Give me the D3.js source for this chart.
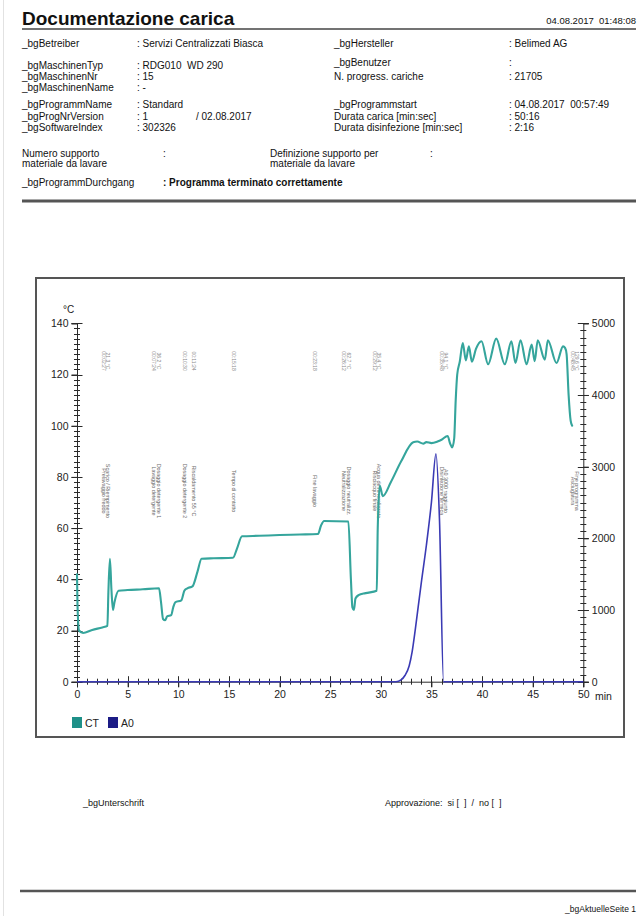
<!DOCTYPE html>
<html>
<head>
<meta charset="utf-8">
<script src="https://cdn.jsdelivr.net/npm/d3@7"></script>
<style>
  body { margin: 0; background: #fff; }
  svg { display: block; }
  text { font-family: "Liberation Sans", Arial, Helvetica, sans-serif; white-space: pre; }
</style>
</head>
<body>
<svg id="page" width="642" height="916"></svg>
<script>
// ---------- Report data ----------
const reportTitle = "Documentazione carica";
const reportDate = "04.08.2017  01:48:08";

// header field blocks: [label, value]
const machineLeft = [
  ["_bgBetreiber", ": Servizi Centralizzati Biasca"],
  ["_bgMaschinenTyp", ": RDG010  WD 290"],
  ["_bgMaschinenNr", ": 15"],
  ["_bgMaschinenName", ": -"]
];
const machineRight = [
  ["_bgHersteller", ": Belimed AG"],
  ["_bgBenutzer", ":"],
  ["N. progress. cariche", ": 21705"]
];
const programLeft = [
  ["_bgProgrammName", ": Standard"],
  ["_bgProgNrVersion", ": 1"],
  ["_bgSoftwareIndex", ": 302326"]
];
const programVersionDate = "/ 02.08.2017";
const programRight = [
  ["_bgProgrammstart", ": 04.08.2017  00:57:49"],
  ["Durata carica [min:sec]", ": 50:16"],
  ["Durata disinfezione [min:sec]", ": 2:16"]
];
const supportLabels = [["Numero supporto", "materiale da lavare"], ["Definizione supporto per", "materiale da lavare"]];
const passLabel = "_bgProgrammDurchgang";
const passValue = ": Programma terminato correttamente";
const signatureLabel = "_bgUnterschrift";
const approvalLabel = "Approvazione:  si [  ]  /  no [  ]";
const pageLabel = "_bgAktuelleSeite 1";

// ---------- Chart data ----------
// CT: chamber temperature [°C] over program time [min]
const ctTime = [0, 0.05, 0.2, 0.6, 1.5, 2.5, 3.0, 3.1, 3.25, 3.4, 3.55, 3.7, 4.1, 5, 6.5, 8.1, 8.3, 8.5, 8.7, 8.9, 9.3, 9.5, 9.7, 10.3, 10.6, 10.9, 11.4, 11.9, 12.3, 13.5, 15.4, 15.8, 16.3, 18, 20, 22, 23.8, 24.1, 24.4, 26.8, 27.05, 27.2, 27.35, 27.5, 27.8, 28.5, 29.6, 29.7, 29.9, 30.2, 31, 32, 33.2, 33.6, 34.2, 34.5, 35.0, 35.6, 36.0, 36.6, 36.85, 37.05, 37.25, 37.4, 37.55, 37.8, 38.1, 38.4, 38.7, 39.0, 39.4, 39.95, 40.6, 41.4, 42.25, 42.9, 43.3, 43.8, 44.4, 44.9, 45.2, 45.5, 46.2, 46.5, 47.35, 48.0, 48.2, 48.35, 48.55, 48.75, 48.9];
const ctTemp = [42, 30, 20, 19, 20.2, 21.2, 21.8, 35, 48, 36, 28, 31, 35.5, 35.8, 36.1, 36.5, 31, 24.5, 24, 25.5, 26, 29, 31, 31.8, 35.5, 36.5, 37.2, 43, 48, 48.2, 48.4, 52, 56.8, 57, 57.3, 57.5, 57.7, 61, 62.8, 62.6, 40, 29, 28, 32.5, 33.8, 34.6, 35.5, 60, 76.5, 72.5, 78, 86, 93.5, 93.8, 93, 93.6, 93.2, 93.8, 94.5, 96, 93, 91.5, 95, 110, 120, 125, 132.3, 125.5, 131, 125, 130, 133, 124, 134, 124, 133, 124.5, 133.4, 124, 131.7, 125.2, 133.4, 125.8, 133.4, 124.5, 131, 130.4, 128, 112, 102, 100];

// A0: disinfection value over program time [min]
const a0Time = [0, 31.5, 32.0, 32.4, 32.8, 33.1, 33.4, 33.7, 34.0, 34.5, 35.0, 35.45, 35.8, 36.2, 50];
const a0Value = [0, 0, 25, 90, 220, 420, 720, 1050, 1380, 1900, 2500, 3180, 2250, 0, 0];

// axis ticks
const timeTicks = [0, 5, 10, 15, 20, 25, 30, 35, 40, 45, 50];
const tempTicks = [0, 20, 40, 60, 80, 100, 120, 140];
const a0Ticks = [0, 1000, 2000, 3000, 4000, 5000];

// program step markers
const eventTimes = [2.45, 7.4, 10.5, 11.4, 15.3, 23.3, 26.2, 29.2, 35.8, 48.75];
const eventTop = [
  ["00:02:27", "21.3 °C"], ["00:07:24", "36.2 °C"], ["00:10:30"], ["00:11:24"], ["00:15:18"],
  ["00:23:18"], ["00:26:12", "62.7 °C"], ["00:29:12", "35.4 °C"], ["00:35:48", "94.1 °C"], ["00:48:45", "129.6 °C"]
];
const eventBottom = [
  ["Prelavaggio freddo", "Scarico / Riempimento"], ["Lavaggio detergente", "Dosaggio detergente 1"],
  ["Dosaggio detergente 2"], ["Riscaldamento 55 °C"], ["Tempo di contatto"], ["Fine lavaggio"],
  ["Neutralizzazione", "Dosaggio neutralizz."], ["Risciacquo finale", "Acqua demineralizzata"],
  ["Disinfezione termica", "A0 3000 raggiunto"], ["Asciugatura", "Fine programma"]
];

const legendNames = ["CT", "A0"];
const seriesColors = { CT: "#35a59c", A0: "#3a3ab4" };
const legendColors = { CT: "#1e9088", A0: "#1c1c86" };

// ---------- Drawing ----------
const svg = d3.select("#page");
svg.append("rect").attr("width", 642).attr("height", 916).attr("fill", "#fff");
svg.append("line").attr("x1", 3.5).attr("x2", 3.5).attr("y1", 0).attr("y2", 916)
  .attr("stroke", "#e2e2e2").attr("stroke-width", 1);

const txt = (x, y, s, opts = {}) => svg.append("text")
  .attr("x", x).attr("y", y).text(s)
  .attr("font-size", opts.size || 10)
  .attr("font-weight", opts.weight || "normal")
  .attr("text-anchor", opts.anchor || "start")
  .attr("fill", opts.fill || "#111");

// title block
txt(22, 25, reportTitle, { size: 19, weight: "bold" });
txt(636, 24, reportDate, { size: 9.5, anchor: "end" });
svg.append("line").attr("x1", 22).attr("x2", 636).attr("y1", 29).attr("y2", 29)
  .attr("stroke", "#444").attr("stroke-width", 1.5);

const colL = 22, colLV = 137, colR = 334, colRV = 509;
const machineLeftY = [47, 69, 80, 91];
const machineRightY = [47, 66, 80];
machineLeft.forEach((r, i) => { txt(colL, machineLeftY[i], r[0]); txt(colLV, machineLeftY[i], r[1]); });
machineRight.forEach((r, i) => { txt(colR, machineRightY[i], r[0]); txt(colRV, machineRightY[i], r[1]); });

const programY = [108, 120, 131];
programLeft.forEach((r, i) => { txt(colL, programY[i], r[0]); txt(colLV, programY[i], r[1]); });
txt(196, programY[1], programVersionDate);
programRight.forEach((r, i) => { txt(colR, programY[i], r[0]); txt(colRV, programY[i], r[1]); });

txt(colL, 157, supportLabels[0][0]); txt(colL, 167, supportLabels[0][1]); txt(163, 157, ":");
txt(270, 157, supportLabels[1][0]); txt(270, 167, supportLabels[1][1]); txt(430, 157, ":");
txt(colL, 186, passLabel);
txt(163, 186, passValue, { weight: "bold" });
svg.append("line").attr("x1", 22).attr("x2", 636).attr("y1", 201).attr("y2", 201)
  .attr("stroke", "#555").attr("stroke-width", 3);

// footer
txt(83, 806, signatureLabel, { size: 9 });
txt(385, 806, approvalLabel, { size: 9 });
svg.append("line").attr("x1", 20).attr("x2", 636).attr("y1", 891).attr("y2", 891)
  .attr("stroke", "#555").attr("stroke-width", 2.5);
txt(636, 912, pageLabel, { size: 8.5, anchor: "end" });

// chart frame
svg.append("rect").attr("x", 36).attr("y", 278).attr("width", 588).attr("height", 459)
  .attr("fill", "none").attr("stroke", "#555").attr("stroke-width", 2);

// scales
const x = d3.scaleLinear().domain([0, 50]).range([77, 583.3]);
const yT = d3.scaleLinear().domain([0, 140]).range([681.7, 323.3]);
const yA = d3.scaleLinear().domain([0, 5000]).range([681.7, 323.3]);

const axisColor = "#2a2a2a";
function styleAxis(g) {
  g.selectAll("path.domain").attr("stroke", axisColor).attr("stroke-width", 1);
  g.selectAll(".tick line").attr("stroke", axisColor).attr("stroke-width", 1);
  g.selectAll(".tick text").attr("fill", "#222").attr("font-size", 10.5)
    .attr("font-family", '"Liberation Sans", Arial, sans-serif');
}

// labelled major axes (ticks crossing the axis line)
const axL = svg.append("g").attr("transform", `translate(${x(0)},0)`)
  .call(d3.axisLeft(yT).tickValues(tempTicks).tickSize(5.5).tickPadding(3).tickFormat(d3.format("d"))).call(styleAxis);
const axR = svg.append("g").attr("transform", `translate(${x(50)},0)`)
  .call(d3.axisRight(yA).tickValues(a0Ticks).tickSize(5.5).tickPadding(3).tickFormat(d3.format("d"))).call(styleAxis);
const axB = svg.append("g").attr("transform", `translate(0,${yT(0)})`)
  .call(d3.axisBottom(x).tickValues(timeTicks).tickSize(5.5).tickPadding(3).tickFormat(d3.format("d"))).call(styleAxis);

// mirrored halves of major ticks and all minor ticks
const tickG = svg.append("g").attr("stroke", axisColor).attr("stroke-width", 1);
function vTicks(values, scale, x0, half) {
  tickG.append("g").selectAll("line").data(values).join("line")
    .attr("x1", x0 - half).attr("x2", x0 + half)
    .attr("y1", d => Math.round(scale(d)) + 0.5).attr("y2", d => Math.round(scale(d)) + 0.5);
}
function hTicks(values, scale, y0, half) {
  tickG.append("g").selectAll("line").data(values).join("line")
    .attr("y1", y0 - half).attr("y2", y0 + half)
    .attr("x1", d => Math.round(scale(d)) + 0.5).attr("x2", d => Math.round(scale(d)) + 0.5);
}
const tempMinor = d3.range(0, 141, 2);
const a0Minor = d3.range(0, 5001, 100);
const timeMinor = d3.range(0, 51, 1);
vTicks(tempMinor, yT, x(0), 3);
vTicks(tempTicks, yT, x(0), 5.5);
vTicks(a0Minor, yA, x(50), 3);
vTicks(a0Ticks, yA, x(50), 5.5);
hTicks(timeMinor, x, yT(0), 3);
hTicks(timeTicks, x, yT(0), 5.5);

txt(63, 313, "°C", { size: 10, fill: "#222" });
txt(595, yT(0) + 5.5 + 3 + 10, "min", { size: 10.5, fill: "#222" });

// step markers: rotated small text columns
const markerG = svg.append("g");
eventTimes.forEach((t, i) => {
  const x0 = x(t);
  eventTop[i].forEach((s, j) => {
    markerG.append("text")
      .attr("transform", `translate(${x0 + j * 4.6},${yT(125.3)}) rotate(90)`)
      .attr("text-anchor", "middle").attr("font-size", 5).attr("fill", "#8a8a8a").text(s);
  });
  eventBottom[i].forEach((s, j) => {
    markerG.append("text")
      .attr("transform", `translate(${x0 + j * 4.6},${yT(74.5)}) rotate(90)`)
      .attr("text-anchor", "middle").attr("font-size", 5.4).attr("fill", "#6a6a6a").text(s);
  });
});

// series lines
const ctData = ctTime.map((t, i) => [t, ctTemp[i]]);
const a0Data = a0Time.map((t, i) => [t, a0Value[i]]);

svg.append("path").datum(a0Data)
  .attr("d", d3.line().x(d => x(d[0])).y(d => yA(d[1])).curve(d3.curveMonotoneX))
  .attr("fill", "none").attr("stroke", seriesColors.A0).attr("stroke-width", 1.6)
  .attr("stroke-linejoin", "round");

svg.append("path").datum(ctData)
  .attr("d", d3.line().x(d => x(d[0])).y(d => yT(d[1])).curve(d3.curveMonotoneX))
  .attr("fill", "none").attr("stroke", seriesColors.CT).attr("stroke-width", 2.1)
  .attr("stroke-linejoin", "round").attr("stroke-linecap", "round");

// legend
const legendX = [72, 108];
legendNames.forEach((n, i) => {
  svg.append("rect").attr("x", legendX[i]).attr("y", 717).attr("width", 10).attr("height", 11)
    .attr("fill", legendColors[n]);
  txt(legendX[i] + 13, 727, n, { size: 10.5, fill: "#222" });
});
</script>
</body>
</html>
